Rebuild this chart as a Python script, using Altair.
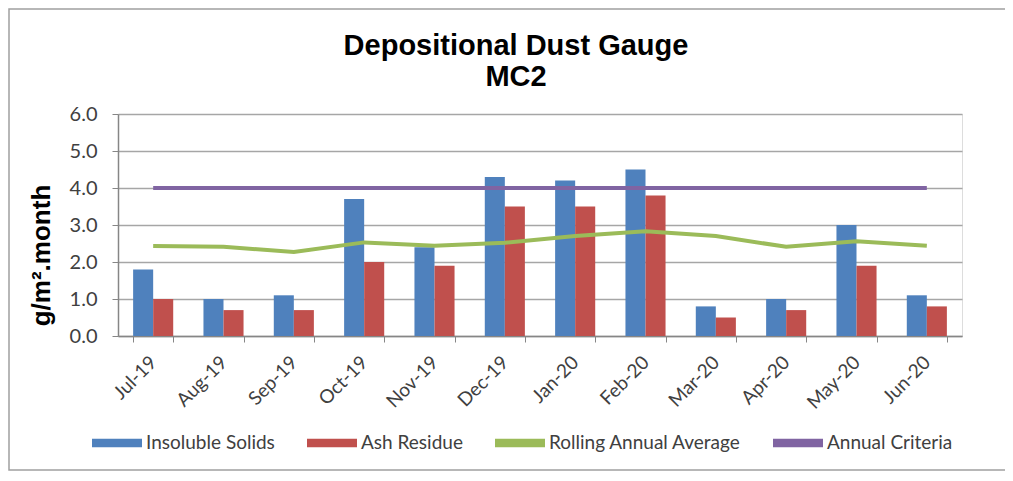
import altair as alt
import pandas as pd

months = ["Jul-19", "Aug-19", "Sep-19", "Oct-19", "Nov-19", "Dec-19",
          "Jan-20", "Feb-20", "Mar-20", "Apr-20", "May-20", "Jun-20"]
insoluble = [1.8, 1.0, 1.1, 3.7, 2.4, 4.3, 4.2, 4.5, 0.8, 1.0, 3.0, 1.1]
ash = [1.0, 0.7, 0.7, 2.0, 1.9, 3.5, 3.5, 3.8, 0.5, 0.7, 1.9, 0.8]
rolling = [2.43, 2.41, 2.27, 2.53, 2.44, 2.52, 2.70, 2.83, 2.70, 2.41, 2.56, 2.44]
criteria = [4.0] * 12

series_names = ["Insoluble Solids", "Ash Residue", "Rolling Annual Average", "Annual Criteria"]
series_colors = ["#4F81BD", "#C0504D", "#9BBB59", "#8064A2"]
y_ticks = [0, 1, 2, 3, 4, 5, 6]

bars_df = pd.DataFrame({
    "month": months * 2,
    "series": [series_names[0]] * len(months) + [series_names[1]] * len(months),
    "value": insoluble + ash,
})
lines_df = pd.DataFrame({
    "month": months * 2,
    "series": [series_names[2]] * len(months) + [series_names[3]] * len(months),
    "value": rolling + criteria,
})

color_scale = alt.Scale(domain=series_names, range=series_colors)

x_enc = alt.X(
    "month:N", sort=months,
    scale=alt.Scale(paddingInner=0.43, paddingOuter=0.215),
    axis=alt.Axis(title=None, labelAngle=-45, labelAlign="right", labelBaseline="middle",
                  labelFont="Lato", labelFontSize=19, labelColor="#404040",
                  labelPadding=17, tickBand="extent", tickSize=6, tickColor="#868686",
                  domainColor="#868686", domainWidth=1.5, grid=False),
)
y_enc = alt.Y(
    "value:Q", scale=alt.Scale(domain=[0, 6]),
    axis=alt.Axis(values=y_ticks, format=".1f", title="g/m².month",
                  titleFont="Liberation Sans", titleFontSize=26, titleFontWeight="bold",
                  titleColor="black", titleX=-64, titleY=141,
                  labelFont="Lato", labelFontSize=20, labelColor="#404040", labelPadding=15,
                  tickSize=6, tickColor="#868686", domainColor="#868686", domainWidth=1.5,
                  grid=True, gridColor="#a6a6a6", gridWidth=1.5),
)

bars = alt.Chart(bars_df).mark_bar().encode(
    x=x_enc,
    xOffset=alt.XOffset("series:N", sort=series_names[:2],
                        scale=alt.Scale(paddingInner=0, paddingOuter=0)),
    y=y_enc,
    color=alt.Color("series:N", scale=color_scale,
                    legend=alt.Legend(orient="none", legendX=-26, legendY=304,
                                      direction="horizontal", columns=4, title=None,
                                      symbolType="M-1,-0.17H1V0.17H-1Z", symbolSize=2500,
                                      symbolStrokeWidth=0, labelFont="Lato", labelFontSize=19,
                                      labelColor="#404040", labelOffset=4, columnPadding=32,
                                      labelLimit=300)),
)

lines = alt.Chart(lines_df).mark_line(strokeWidth=4).encode(
    x=x_enc,
    y=y_enc,
    color=alt.Color("series:N", scale=color_scale, legend=None),
    detail="series:N",
)

frame = alt.Chart(pd.DataFrame({"a": [0]})).mark_rect(
    fillOpacity=0, stroke="#a0a0a0", strokeWidth=1.5
).encode(
    x=alt.value(-109), x2=alt.value(900), y=alt.value(-105), y2=alt.value(356)
)

chart = alt.layer(frame, bars, lines).properties(
    width=844, height=222,
    padding={"left": 110, "top": 106, "right": 43, "bottom": 137},
    autosize=alt.AutoSizeParams(type="none"),
    title=alt.Title(["Depositional Dust Gauge", "MC2"], font="Liberation Sans", fontSize=29,
                    fontWeight="bold", color="black", dx=-24, dy=106, offset=22, lineHeight=31,
                    frame="group"),
).configure_view(stroke=None).configure(background="white")

chart.save("out.html", embed_options={"renderer": "svg", "actions": False})
